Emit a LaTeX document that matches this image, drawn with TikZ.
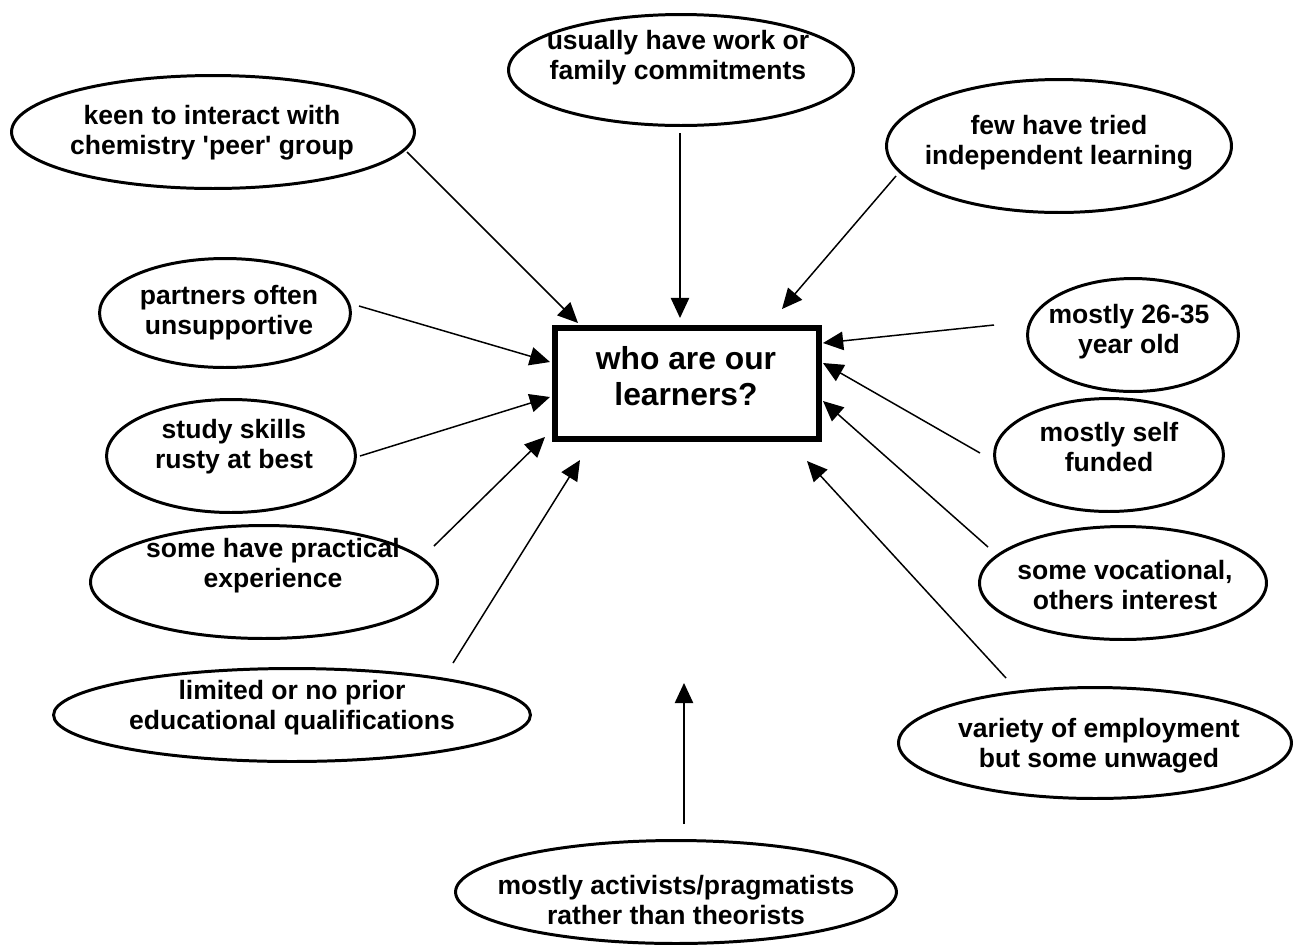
\documentclass[tikz,border=0pt]{standalone}
\usepackage{fontspec}
\setmainfont{Liberation Sans}
\usetikzlibrary{shapes.geometric,arrows.meta}
\tikzset{
  ell/.style={ellipse, draw, line width=1.7pt, inner sep=0pt},
  lbl/.style={inner sep=0pt, align=center, font=\fontsize{15.1pt}{17pt}\selectfont\bfseries},
  mainbox/.style={rectangle, draw, line width=3.2pt, inner sep=0pt, minimum width=5.28cm, minimum height=2.22cm},
  mainlbl/.style={inner sep=0pt, align=center, font=\fontsize{18.1pt}{20.4pt}\selectfont\bfseries},
  arr/.style={-{Triangle[length=11.5pt,width=10.5pt]}, line width=0.85pt}
}
\begin{document}
\begin{tikzpicture}[x=0.02cm,y=-0.02cm]
\useasboundingbox (0,0) rectangle (1296,948);

% central box
\node[mainbox] (who) at (687,383.5) {};
\node[mainlbl] (whot) at (686,376) {who are our\\learners?};

% ellipses
\node[ell, minimum width=8.06cm, minimum height=2.26cm] (n1) at (213,132) {};
\node[lbl] (l1) at (212,133) {keen to interact with\\chemistry \textquotesingle peer\textquotesingle\ group};

\node[ell, minimum width=6.90cm, minimum height=2.22cm] (n2) at (681,70) {};
\node[lbl] (l2) at (678,58) {usually have work or\\family commitments};

\node[ell, minimum width=6.90cm, minimum height=2.66cm] (n3) at (1059,146) {};
\node[lbl] (l3) at (1059,143) {few have tried\\independent learning};

\node[ell, minimum width=5.02cm, minimum height=2.18cm] (n4) at (225,313) {};
\node[lbl] (l4) at (229,313) {partners often\\unsupportive};

\node[ell, minimum width=4.98cm, minimum height=2.26cm] (n5) at (231,456) {};
\node[lbl] (l5) at (234,447) {study skills\\rusty at best};

\node[ell, minimum width=6.94cm, minimum height=2.26cm] (n6) at (264,582) {};
\node[lbl] (l6) at (273,566) {some have practical\\experience};

\node[ell, minimum width=9.54cm, minimum height=1.86cm] (n7) at (292,715) {};
\node[lbl] (l7) at (292,708) {limited or no prior\\educational qualifications};

\node[ell, minimum width=8.82cm, minimum height=2.06cm] (n8) at (676,892) {};
\node[lbl] (l8) at (676,900) {mostly activists/pragmatists\\rather than theorists};

\node[ell, minimum width=7.86cm, minimum height=2.22cm] (n9) at (1095,743) {};
\node[lbl] (l9) at (1099,746) {variety of employment\\but some unwaged};

\node[ell, minimum width=5.74cm, minimum height=2.26cm] (n10) at (1123,583) {};
\node[lbl] (l10) at (1125,585) {some vocational,\\others interest};

\node[ell, minimum width=4.58cm, minimum height=2.26cm] (n11) at (1109,455) {};
\node[lbl] (l11) at (1109,447) {mostly self\\funded};

\node[ell, minimum width=4.22cm, minimum height=2.26cm] (n12) at (1133,335) {};
\node[lbl] (l12) at (1129,332) {mostly 26-35\\year old};

% connector end points
\coordinate (s1) at (407,152);  \coordinate (e1) at (578,323);
\coordinate (s2) at (680,133);  \coordinate (e2) at (680,318);
\coordinate (s3) at (896,176);  \coordinate (e3) at (782,309);
\coordinate (s4) at (359,306);  \coordinate (e4) at (550,362);
\coordinate (s5) at (360,456);  \coordinate (e5) at (550,397);
\coordinate (s6) at (434,546);  \coordinate (e6) at (545,437);
\coordinate (s7) at (453,663);  \coordinate (e7) at (580,460);
\coordinate (s8) at (684,824);  \coordinate (e8) at (684,683);
\coordinate (s9) at (1006,678); \coordinate (e9) at (807,461);
\coordinate (s10) at (988,547); \coordinate (e10) at (823,401);
\coordinate (s11) at (980,453); \coordinate (e11) at (823,363);
\coordinate (s12) at (994,325); \coordinate (e12) at (823,343);

\foreach \i in {1,...,12} {\draw[arr] (s\i) -- (e\i);}
\end{tikzpicture}
\end{document}
